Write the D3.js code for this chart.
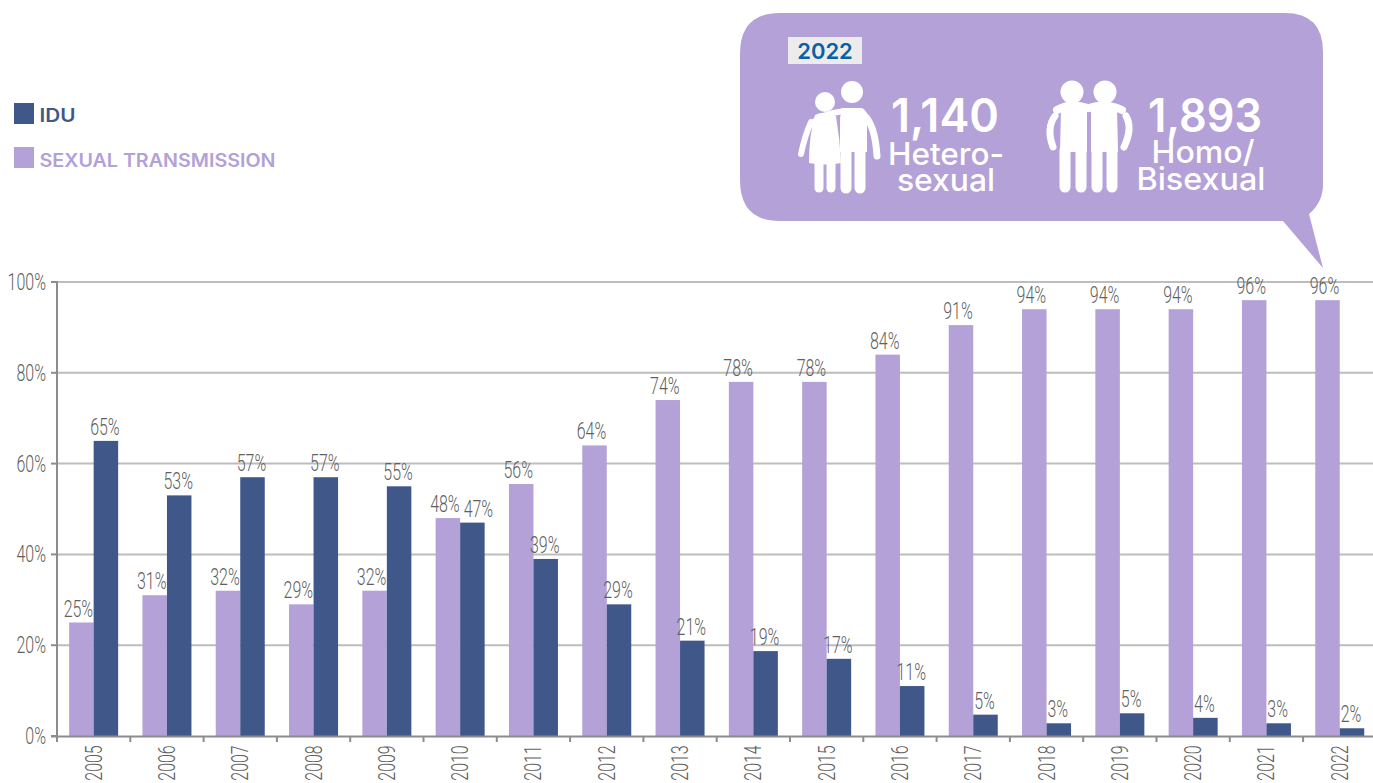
<!DOCTYPE html>
<html><head><meta charset="utf-8">
<script src="https://cdn.jsdelivr.net/npm/d3@7"></script>
<style>
html,body{margin:0;padding:0;background:#fff;overflow:hidden}
svg{display:block}
</style></head><body>
<svg id="c" width="1373" height="783"></svg>
<script>
const years = [2005,2006,2007,2008,2009,2010,2011,2012,2013,2014,2015,2016,2017,2018,2019,2020,2021,2022];
const sexual = [25,31,32,29,32,48,55.5,64,74,78,78,84,90.5,94,94,94,96,96];
const idu = [65,53,57,57,55,47,39,29,21,18.7,17,11,4.7,2.8,5,4,2.8,1.7];
const yTicks = [0,20,40,60,80,100];
const legendItems = ["IDU","SEXUAL TRANSMISSION"];

const LAV="#b3a1d7", NAVY="#40578a", GRID="#bdbdbd", AXIS="#8c8c8c", TXT="#5f5f5f";
const svg=d3.select("#c");
const x=d3.scaleBand().domain(years).range([57,1376.4]);
const y=d3.scaleLinear().domain([0,100]).range([736,282]);
const barW=24.5;
const FF="Roboto", WIDE="Inter, 'Open Sans', sans-serif";
const SX=.68, FS=23.5;
const narrow=(sel)=>sel.attr("font-family",FF).attr("font-weight",300).attr("font-size",FS).attr("fill",TXT);

// grid
svg.append("g").selectAll("line").data(yTicks.filter(d=>d>0)).join("line")
  .attr("x1",57).attr("x2",1373).attr("y1",d=>y(d)).attr("y2",d=>y(d))
  .attr("stroke",GRID).attr("stroke-width",2);

// y axis ticks & labels
svg.append("g").selectAll("line").data(yTicks).join("line")
  .attr("x1",51).attr("x2",57).attr("y1",d=>y(d)).attr("y2",d=>y(d))
  .attr("stroke",AXIS).attr("stroke-width",2);
svg.append("g").selectAll("text").data(yTicks).join("text")
  .call(narrow).attr("text-anchor","end")
  .attr("transform",d=>`translate(46,${y(d)+8}) scale(${SX},1)`)
  .text(d=>d+"%");

// lavender bars + labels
const cx=d=>x(d)+x.bandwidth()/2;
svg.append("g").selectAll("rect").data(years).join("rect")
  .attr("x",d=>cx(d)-barW).attr("width",barW)
  .attr("y",(d,i)=>y(sexual[i])).attr("height",(d,i)=>y(0)-y(sexual[i]))
  .attr("fill",LAV);
svg.append("g").selectAll("text").data(years).join("text")
  .call(narrow).attr("text-anchor","middle")
  .attr("transform",(d,i)=>`translate(${cx(d)-barW/2-3},${y(sexual[i])-6}) scale(${SX},1)`)
  .text((d,i)=>Math.round(sexual[i])+"%");

// navy bars + labels
svg.append("g").selectAll("rect").data(years).join("rect")
  .attr("x",d=>cx(d)).attr("width",barW)
  .attr("y",(d,i)=>y(idu[i])).attr("height",(d,i)=>y(0)-y(idu[i]))
  .attr("fill",NAVY);
svg.append("g").selectAll("text").data(years).join("text")
  .call(narrow).attr("text-anchor","middle")
  .attr("transform",(d,i)=>`translate(${cx(d)+barW/2-1+(d===2010?7:0)},${y(idu[i])-6}) scale(${SX},1)`)
  .text((d,i)=>Math.round(idu[i])+"%");

// axes
svg.append("line").attr("x1",57).attr("x2",57).attr("y1",281).attr("y2",737).attr("stroke",AXIS).attr("stroke-width",2);
svg.append("line").attr("x1",51).attr("x2",1373).attr("y1",736.5).attr("y2",736.5).attr("stroke",AXIS).attr("stroke-width",2);
svg.append("g").selectAll("line").data(years).join("line")
  .attr("x1",d=>x(d)).attr("x2",d=>x(d)).attr("y1",736).attr("y2",742)
  .attr("stroke",AXIS).attr("stroke-width",2);
svg.append("g").selectAll("text").data(years).join("text")
  .call(narrow).attr("text-anchor","middle")
  .attr("transform",d=>`translate(${cx(d)+8},763) rotate(-90) scale(${SX},1)`)
  .text(d=>d);

// legend
const lg=svg.append("g");
[NAVY,LAV].forEach((c,i)=>{
  lg.append("rect").attr("x",14).attr("y",[103,147][i]).attr("width",20).attr("height",21).attr("fill",c);
  lg.append("text").attr("x",39.5).attr("y",[122,167][i]).attr("font-family",WIDE).attr("font-weight",600)
    .attr("font-size",18.5).attr("fill",c).attr("textLength",[36,236][i]).attr("lengthAdjust","spacingAndGlyphs")
    .text(legendItems[i]);
});

// callout bubble
svg.append("path").attr("fill",LAV).attr("d",
 "M780,13 H1285 Q1323,13 1323,52 V185 Q1323,202 1309,214 L1323,268 L1283,221 H780 Q740,221 740,180 V54 Q740,13 780,13 Z");
svg.append("rect").attr("x",788).attr("y",37).attr("width",74).attr("height",27).attr("fill",'#ececec');
svg.append("text").attr("x",825).attr("y",59).attr("text-anchor","middle").attr("font-family",WIDE)
  .attr("font-weight",600).attr("font-size",22).attr("fill","#0b5fa5").text("2022");

// callout text
const wt=(s,cxv,yv,size,w,wgt)=>svg.append("text").attr("x",cxv).attr("y",yv).attr("text-anchor","middle")
  .attr("font-family",WIDE).attr("font-weight",wgt).attr("font-size",size).attr("fill","#fff")
  .attr("textLength",w).attr("lengthAdjust","spacingAndGlyphs").text(s);
wt("1,140",945,132,46,108,600);
wt("Hetero-",946,165,31,116,500);
wt("sexual",946,191,31,98,500);
wt("1,893",1205,132,46,114,600);
wt("Homo/",1203,163,31,103,500);
wt("Bisexual",1201,190,31,129,500);

// pictograms
const ic=svg.append("g").attr("fill","#fff");
const W="#fff";
const limb=(d,w)=>ic.append("path").attr("d",d).attr("fill","none").attr("stroke",W).attr("stroke-width",w).attr("stroke-linecap","round").attr("stroke-linejoin","round");
// couple: woman and man
ic.append("circle").attr("cx",825).attr("cy",102).attr("r",10);
ic.append("circle").attr("cx",852).attr("cy",92).attr("r",11);
ic.append("path").attr("d","M815,115 Q825,110 836,116 Q840,140 841,163 Q826,166 809,163 Q809,135 815,115 Z");
limb("M819,162 V188",9); limb("M831,162 V188",9);
limb("M811,122 Q805,135 801,154",6);
ic.append("path").attr("d","M842,108 H862 Q867,110 867,118 V152 H840 V118 Z");
limb("M846,150 V188",11); limb("M860,150 V188",11);
limb("M864,115 Q875,125 877,156",7);
limb("M812,124 Q820,114 845,111",6);
// couple: two men
ic.append("circle").attr("cx",1072).attr("cy",92).attr("r",11.5);
ic.append("circle").attr("cx",1105).attr("cy",92).attr("r",11.5);
ic.append("path").attr("d","M1061,108 H1087 V152 H1060 Z M1091,108 H1117 L1118,152 H1091 Z");
limb("M1065,150 V187",11); limb("M1081,150 V187",11);
limb("M1097,150 V187",11); limb("M1112,150 V187",11);
limb("M1055,116 Q1046,128 1053,147",7);
limb("M1126,116 Q1133,128 1124,147",7);
limb("M1057,110 Q1070,102 1088,108",8);
limb("M1122,110 Q1105,102 1089,108",8);
</script>
</body></html>
